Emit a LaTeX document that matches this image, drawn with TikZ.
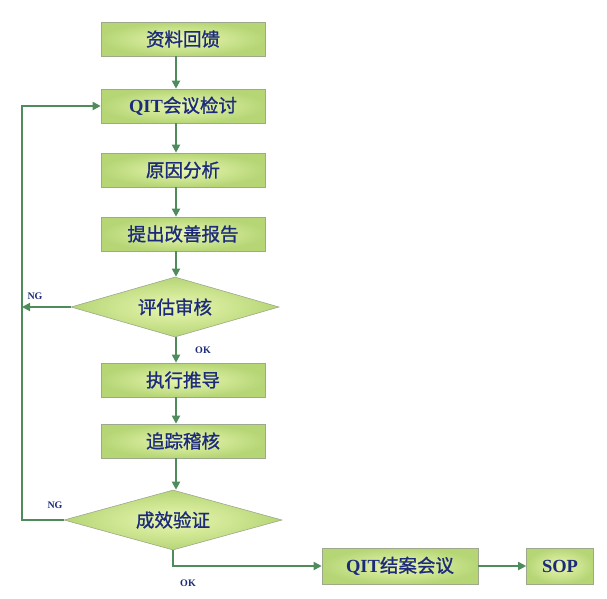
\documentclass[tikz,border=0pt]{standalone}
\usepackage{fontspec}
\setmainfont{Liberation Serif}
\newfontfamily\cjk{Noto Sans CJK SC}[FakeBold=1.2]
\usetikzlibrary{arrows.meta,shapes.geometric}
\definecolor{ink}{HTML}{1C2A7A}
\definecolor{wire}{HTML}{4E8C5C}
\definecolor{boxin}{HTML}{EAF7B2}
\definecolor{boxout}{HTML}{B6D676}
\definecolor{rim}{HTML}{9DA88C}
\newcommand{\StageFont}{\fontsize{18.5}{21}\selectfont}
\newcommand{\TagFont}{\fontsize{10}{12}\selectfont\bfseries}

\begin{document}
\begin{tikzpicture}[x=1pt,y=-1pt, font=\StageFont, text=ink,
    stage/.style={draw=rim, line width=0.6pt, inner color=boxin, outer color=boxout,
      minimum width=164pt, minimum height=34pt, inner sep=0pt},
    check/.style={diamond, draw=rim, line width=0.6pt, inner color=boxin, outer color=boxout,
      minimum width=208pt, minimum height=60pt, inner sep=0pt, aspect=3.4},
    flow/.style={draw=wire, line width=1.8pt, -{Triangle[length=8pt,width=8pt]}},
    tag/.style={font=\TagFont, text=ink}]
  \useasboundingbox (0,0) rectangle (607,598);
  % main column
  \node[stage] (feed) at (183,39) {\cjk 资料回馈};
  \node[stage] (qit) at (183,106) {\textbf{QIT}\cjk 会议检讨};
  \node[stage] (cause) at (183,170) {\cjk 原因分析};
  \node[stage] (report) at (183,234) {\cjk 提出改善报告};
  \node[check] (review) at (175,307) {\cjk 评估审核};
  \node[stage] (run) at (183,380) {\cjk 执行推导};
  \node[stage] (track) at (183,441) {\cjk 追踪稽核};
  \node[check, minimum width=218pt] (verify) at (173,520) {\cjk 成效验证};
  % closing row
  \node[stage, minimum width=156pt, minimum height=36pt] (close) at (400,566) {\textbf{QIT}\cjk 结案会议};
  \node[stage, minimum width=67pt, minimum height=36pt] (sop) at (560,566) {\textbf{SOP}};
  \coordinate (spine) at (176,0);
  \coordinate (ngtop) at (22,307);
  \coordinate (ngbot) at (22,520);
  % connectors
  \foreach \a/\b in {feed/qit, qit/cause, cause/report, report/review, review/run, run/track, track/verify}
    \draw[flow] (\a.south -| spine) -- (\b.north -| spine);
  \draw[flow] (close) -- (sop);
  \draw[flow] (review.west) -- (ngtop);
  \draw[flow] (verify.west) -- (ngbot) -- (ngbot |- qit.west) -- (qit.west);
  \draw[flow] (verify.south) |- (close.west);
  % labels
  \node[tag] (ng1) at (35,296) {NG};
  \node[tag] (ok1) at (203,350) {OK};
  \node[tag] (ng2) at (55,505) {NG};
  \node[tag] (ok2) at (188,583) {OK};
\end{tikzpicture}
\end{document}
